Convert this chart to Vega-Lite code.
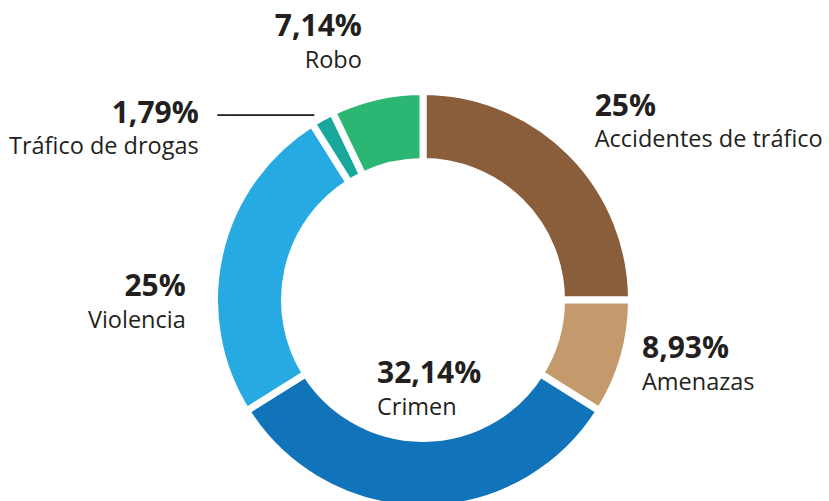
{
  "$schema": "https://vega.github.io/schema/vega-lite/v6.json",
  "width": 800,
  "height": 400,
  "autosize": {"type": "none"},
  "padding": {"left": 23, "top": 100, "right": 6, "bottom": 1},
  "background": "white",
  "config": {"view": {"stroke": null}},
  "data": {
    "values": [
      {"idx": 1, "cat": "Accidentes de tráfico", "value": 25, "pct": "25%"},
      {"idx": 2, "cat": "Amenazas", "value": 8.93, "pct": "8,93%"},
      {"idx": 3, "cat": "Crimen", "value": 32.14, "pct": "32,14%"},
      {"idx": 4, "cat": "Violencia", "value": 25, "pct": "25%"},
      {"idx": 5, "cat": "Tráfico de drogas", "value": 1.79, "pct": "1,79%"},
      {"idx": 6, "cat": "Robo", "value": 7.14, "pct": "7,14%"}
    ]
  },
  "encoding": {
    "theta": {"field": "value", "type": "quantitative", "stack": true},
    "order": {"field": "idx", "type": "quantitative"}
  },
  "layer": [
    {
      "mark": {"type": "arc", "outerRadius": 208.5, "innerRadius": 138.5, "stroke": "white", "strokeWidth": 7},
      "encoding": {
        "color": {
          "field": "cat",
          "type": "nominal",
          "legend": null,
          "scale": {
            "domain": ["Accidentes de tráfico", "Amenazas", "Crimen", "Violencia", "Tráfico de drogas", "Robo"],
            "range": ["#8A5D3B", "#C49A6C", "#1174BB", "#27A9E1", "#17A89B", "#2BB673"]
          }
        }
      }
    },
    {
      "mark": {"type": "text", "radius": 230, "align": "right", "baseline": "alphabetic", "dx": -10, "dy": -40, "font": "Open Sans", "fontSize": 30, "fontWeight": "bold", "color": "#231F20"},
      "encoding": {"text": {"condition": {"test": "datum.cat === 'Robo'", "field": "pct", "type": "nominal"}, "value": ""}}
    },
    {
      "mark": {"type": "text", "radius": 230, "align": "right", "baseline": "alphabetic", "dx": -10, "dy": -8, "font": "Open Sans", "fontSize": 23.5, "color": "#231F20"},
      "encoding": {"text": {"condition": {"test": "datum.cat === 'Robo'", "field": "cat", "type": "nominal"}, "value": ""}}
    },
    {
      "mark": {"type": "text", "radius": 230, "align": "right", "baseline": "alphabetic", "dx": -113, "dy": 24, "font": "Open Sans", "fontSize": 30, "fontWeight": "bold", "color": "#231F20"},
      "encoding": {"text": {"condition": {"test": "datum.cat === 'Tráfico de drogas'", "field": "pct", "type": "nominal"}, "value": ""}}
    },
    {
      "mark": {"type": "text", "radius": 230, "align": "right", "baseline": "alphabetic", "dx": -113, "dy": 55, "font": "Open Sans", "fontSize": 23.5, "color": "#231F20"},
      "encoding": {"text": {"condition": {"test": "datum.cat === 'Tráfico de drogas'", "field": "cat", "type": "nominal"}, "value": ""}}
    },
    {
      "mark": {"type": "text", "radius": 230, "align": "center", "baseline": "alphabetic", "dx": -46, "dy": 23, "font": "DejaVu Sans Mono", "fontSize": 20, "color": "#231F20"},
      "encoding": {"text": {"condition": {"test": "datum.cat === 'Tráfico de drogas'", "value": "────────"}, "value": ""}}
    },
    {
      "mark": {"type": "text", "radius": 230, "align": "left", "baseline": "alphabetic", "dx": 9, "dy": -21, "font": "Open Sans", "fontSize": 30, "fontWeight": "bold", "color": "#231F20"},
      "encoding": {"text": {"condition": {"test": "datum.cat === 'Accidentes de tráfico'", "field": "pct", "type": "nominal"}, "value": ""}}
    },
    {
      "mark": {"type": "text", "radius": 230, "align": "left", "baseline": "alphabetic", "dx": 9, "dy": 10, "font": "Open Sans", "fontSize": 23.5, "color": "#231F20"},
      "encoding": {"text": {"condition": {"test": "datum.cat === 'Accidentes de tráfico'", "field": "cat", "type": "nominal"}, "value": ""}}
    },
    {
      "mark": {"type": "text", "radius": 230, "align": "left", "baseline": "alphabetic", "dx": -2, "dy": -6, "font": "Open Sans", "fontSize": 30, "fontWeight": "bold", "color": "#231F20"},
      "encoding": {"text": {"condition": {"test": "datum.cat === 'Amenazas'", "field": "pct", "type": "nominal"}, "value": ""}}
    },
    {
      "mark": {"type": "text", "radius": 230, "align": "left", "baseline": "alphabetic", "dx": -2, "dy": 26, "font": "Open Sans", "fontSize": 23.5, "color": "#231F20"},
      "encoding": {"text": {"condition": {"test": "datum.cat === 'Amenazas'", "field": "cat", "type": "nominal"}, "value": ""}}
    },
    {
      "mark": {"type": "text", "radius": 80, "align": "left", "baseline": "alphabetic", "dx": -46, "dy": 3, "font": "Open Sans", "fontSize": 30, "fontWeight": "bold", "color": "#231F20"},
      "encoding": {"text": {"condition": {"test": "datum.cat === 'Crimen'", "field": "pct", "type": "nominal"}, "value": ""}}
    },
    {
      "mark": {"type": "text", "radius": 80, "align": "left", "baseline": "alphabetic", "dx": -46, "dy": 35, "font": "Open Sans", "fontSize": 23.5, "color": "#231F20"},
      "encoding": {"text": {"condition": {"test": "datum.cat === 'Crimen'", "field": "cat", "type": "nominal"}, "value": ""}}
    },
    {
      "mark": {"type": "text", "radius": 230, "align": "right", "baseline": "alphabetic", "dx": -13, "dy": 47, "font": "Open Sans", "fontSize": 30, "fontWeight": "bold", "color": "#231F20"},
      "encoding": {"text": {"condition": {"test": "datum.cat === 'Violencia'", "field": "pct", "type": "nominal"}, "value": ""}}
    },
    {
      "mark": {"type": "text", "radius": 230, "align": "right", "baseline": "alphabetic", "dx": -13, "dy": 79, "font": "Open Sans", "fontSize": 23.5, "color": "#231F20"},
      "encoding": {"text": {"condition": {"test": "datum.cat === 'Violencia'", "field": "cat", "type": "nominal"}, "value": ""}}
    }
  ]
}
